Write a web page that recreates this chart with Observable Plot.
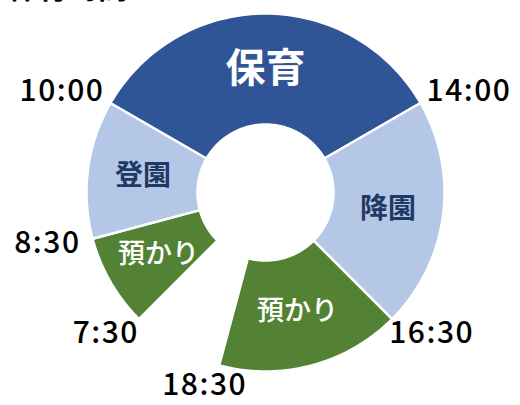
<!DOCTYPE html>
<html><head><meta charset="utf-8">
<script src="https://cdn.jsdelivr.net/npm/d3@7"></script>
<script src="https://cdn.jsdelivr.net/npm/@observablehq/plot@0.6"></script>
<style>
body{margin:0;background:#fff;overflow:hidden}
#wrap{position:relative;width:520px;height:405px;overflow:hidden}
#title{position:absolute;left:8px;top:-37px;font:700 30px "Noto Sans CJK JP",sans-serif;margin:0;color:#000}
#chart{position:absolute;left:0;top:0}
.tick text{letter-spacing:1.5px}
</style></head><body>
<div id="wrap"><div id="chart"></div><div id="title">保育時間</div></div>
<script>
// Data
const segments = ["預かり", "登園", "保育", "降園", "預かり"];
const segStart = [7.5, 8.5, 10, 14, 16.5];
const segEnd   = [8.5, 10, 14, 16.5, 18.5];
const segColors = ["#548235", "#B4C7E7", "#2F5597", "#B4C7E7", "#548235"];
const tickTimes  = [7.5, 8.5, 10, 14, 16.5, 18.5];
const tickLabels = ["7:30", "8:30", "10:00", "14:00", "16:30", "18:30"];

// Geometry (12-hour clock face)
const R = 179, r0 = 68;
const ang = t => t / 12 * 2 * Math.PI;
const pt = (t, rad) => [rad * Math.sin(ang(t)), rad * Math.cos(ang(t))];

const poly = [];
segments.forEach((s, i) => {
  const n = 80;
  for (let k = 0; k <= n; k++) {
    const t = segStart[i] + (segEnd[i] - segStart[i]) * k / n;
    const [x, y] = pt(t, R); poly.push({i, x, y, c: segColors[i]});
  }
  for (let k = n; k >= 0; k--) {
    const t = segStart[i] + (segEnd[i] - segStart[i]) * k / n;
    const [x, y] = pt(t, r0); poly.push({i, x, y, c: segColors[i]});
  }
});

const segLabels = segments.map((s, i) => {
  const m = (segStart[i] + segEnd[i]) / 2;
  const [x, y] = pt(m, (R + r0) / 2);
  return {s, x, y, i};
});

const ticks = tickTimes.map((t, i) => {
  const a = ang(t);
  const [px, py] = pt(t, R + 10);
  const hw = tickLabels[i].length * 9.2, hh = 12;
  return {label: tickLabels[i], x: px + hw * Math.sin(a), y: py + hh * Math.cos(a)};
});

const chart = Plot.plot({
  width: 520, height: 405, margin: 0,
  x: {domain: [-265, 255], axis: null},
  y: {domain: [-213, 192], axis: null},
  color: {type: "identity"},
  style: {fontFamily: '"Noto Sans CJK JP", sans-serif', background: "transparent"},
  marks: [
    Plot.line(poly, {x: "x", y: "y", z: "i", fill: "c", stroke: "white", strokeWidth: 2.5, curve: "linear-closed"}),
    Plot.text(segLabels.filter(d => d.s === "保育"), {x: "x", y: "y", text: "s", fill: "white", fontSize: 40, fontWeight: 700}),
    Plot.text(segLabels.filter(d => d.s === "登園" || d.s === "降園"), {x: "x", y: "y", text: "s", fill: "#1F3864", fontSize: 28, fontWeight: 700}),
    Plot.text(segLabels.filter(d => d.s === "預かり"), {x: "x", y: "y", text: "s", fill: "white", fontSize: 27, fontWeight: 500}),
    Plot.text(ticks, {x: "x", y: "y", dy: -1, text: "label", fill: "black", fontSize: 30, fontWeight: 500, className: "tick"})
  ]
});
document.getElementById("chart").appendChild(chart);
</script>
</body></html>
